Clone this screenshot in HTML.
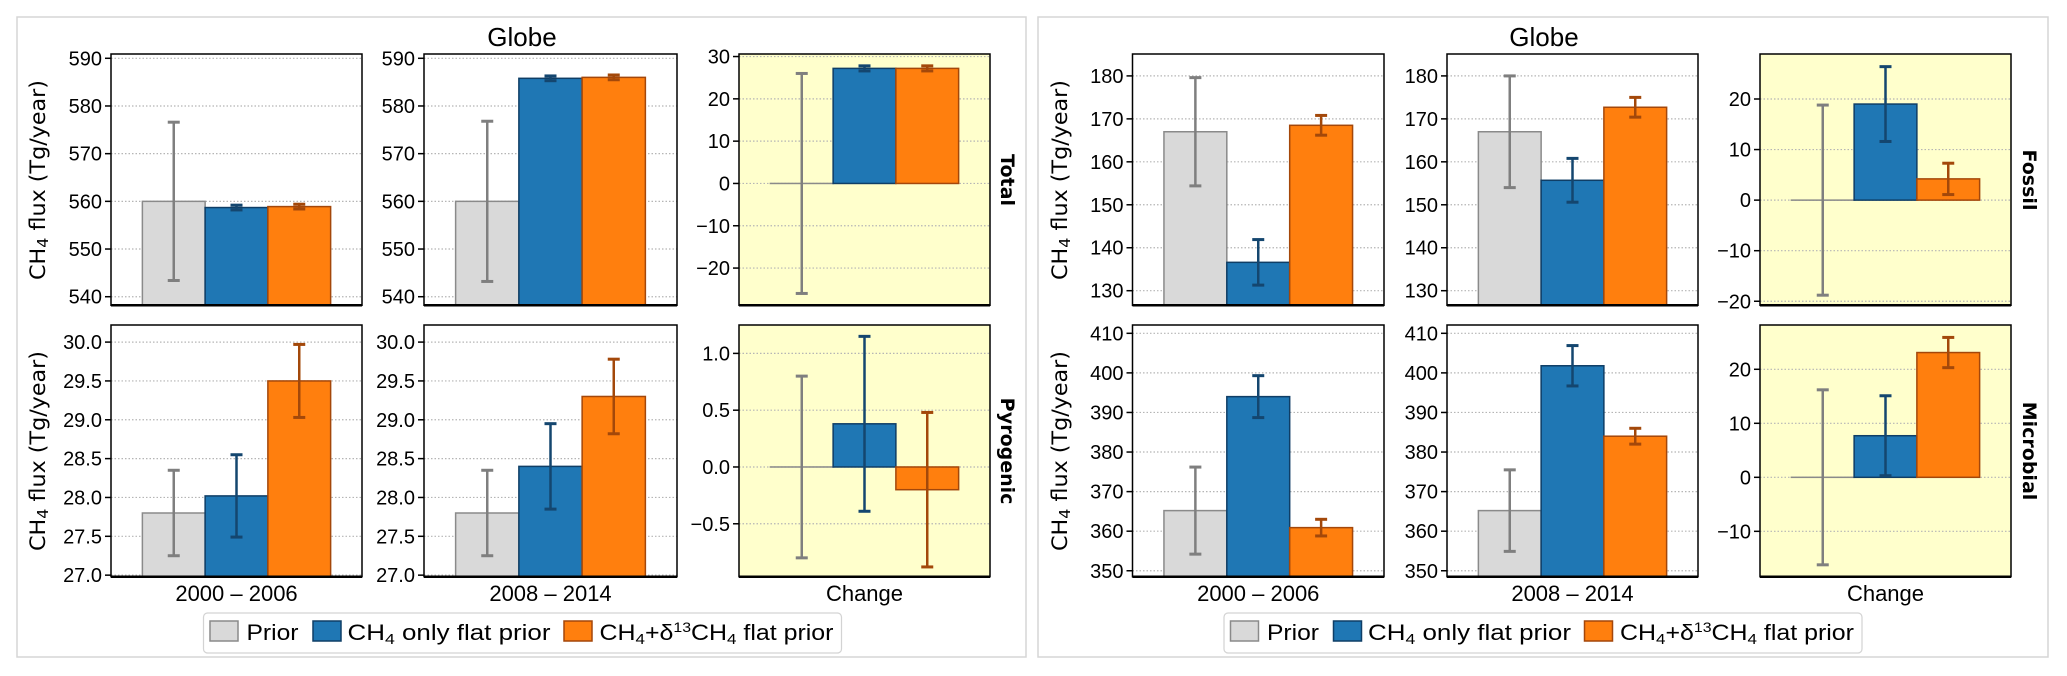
<!DOCTYPE html>
<html><head><meta charset="utf-8"><style>
html,body{margin:0;padding:0;background:#fff;width:2067px;height:676px;overflow:hidden}
svg{display:block}
.tick{font-family:"Liberation Sans Narrow","Liberation Sans",sans-serif;font-size:20px;fill:#000}
.ylab{font-family:"DejaVu Sans","Liberation Sans",sans-serif;font-size:21px;fill:#000}
.rlab{font-family:"DejaVu Sans","Liberation Sans",sans-serif;font-size:19px;font-weight:bold;fill:#000}
.title{font-family:"Liberation Sans Narrow","Liberation Sans",sans-serif;font-size:26px;fill:#000}
.leg{font-family:"Liberation Sans Narrow","Liberation Sans",sans-serif;font-size:22px;fill:#000}
</style></head><body>
<svg id="fig" width="2067" height="676" viewBox="0 0 2067 676" xmlns="http://www.w3.org/2000/svg">
<rect x="17" y="17" width="1009" height="640" fill="#fff" stroke="#d6d6d6" stroke-width="1.5"/>
<rect x="1038" y="17" width="1010" height="640" fill="#fff" stroke="#d6d6d6" stroke-width="1.5"/>
<text class="title" x="522" y="46" text-anchor="middle">Globe</text>
<text class="title" x="1544" y="46" text-anchor="middle">Globe</text>
</svg>
<script>
// ---- data ----
const categories = ["Prior", "CH4 only flat prior", "CH4+δ13CH4 flat prior"];
const periodLabels = ["2000 – 2006", "2008 – 2014", "Change"];

const totalEarlyValues = [560, 558.7, 558.9];
const totalEarlyErrors = [16.6, 0.5, 0.5];
const totalLateValues = [560, 585.8, 586];
const totalLateErrors = [16.8, 0.5, 0.5];
const totalChangeValues = [0, 27.2, 27.2];
const totalChangeErrors = [26, 0.6, 0.6];

const pyroEarlyValues = [27.8, 28.02, 29.5];
const pyroEarlyErrors = [0.55, 0.53, 0.47];
const pyroLateValues = [27.8, 28.4, 29.3];
const pyroLateErrors = [0.55, 0.55, 0.48];
const pyroChangeValues = [0, 0.38, -0.2];
const pyroChangeErrors = [0.8, 0.77, 0.68];

const fossilEarlyValues = [167, 136.6, 168.5];
const fossilEarlyErrors = [12.6, 5.3, 2.3];
const fossilLateValues = [167, 155.7, 172.7];
const fossilLateErrors = [13, 5.1, 2.3];
const fossilChangeValues = [0, 19, 4.2];
const fossilChangeErrors = [18.8, 7.4, 3.1];

const microEarlyValues = [365.2, 394, 360.9];
const microEarlyErrors = [11, 5.3, 2.1];
const microLateValues = [365.2, 401.8, 384];
const microLateErrors = [10.3, 5.1, 2];
const microChangeValues = [0, 7.7, 23.1];
const microChangeErrors = [16.2, 7.4, 2.8];

const totalAbsTicks = [540, 550, 560, 570, 580, 590];
const totalChangeTicks = [-20, -10, 0, 10, 20, 30];
const pyroAbsTicks = [27.0, 27.5, 28.0, 28.5, 29.0, 29.5, 30.0];
const pyroChangeTicks = [-0.5, 0.0, 0.5, 1.0];
const fossilAbsTicks = [130, 140, 150, 160, 170, 180];
const fossilChangeTicks = [-20, -10, 0, 10, 20];
const microAbsTicks = [350, 360, 370, 380, 390, 400, 410];
const microChangeTicks = [-10, 0, 10, 20];

// ---- layout ----
const NS = "http://www.w3.org/2000/svg";
const svg = document.getElementById("fig");
const fills = ["#d9d9d9", "#1f77b4", "#ff7f0e"];
const edges = ["#8a8a8a", "#0f3e66", "#a4470a"];
const errCols = ["#7f7f7f", "#14466f", "#a3480a"];
const rows = [{top:54, bottom:305.3}, {top:325, bottom:576.7}];
const colsLeft = [[111, 362], [424, 677], [739, 990]];
const colsRight = [[1132.5, 1384], [1447, 1698], [1760, 2011]];

function mk(tag, attrs, parent) {
  const e = document.createElementNS(NS, tag);
  for (const k in attrs) e.setAttribute(k, attrs[k]);
  (parent || svg).appendChild(e);
  return e;
}

function fmt(v, dec) {
  const s = Math.abs(v).toFixed(dec);
  return (v < -1e-9 ? "\u2212" : "") + s;
}

function panel(x0, x1, row, domain, ticks, dec, values, errors, isChange, name) {
  const y0 = row.top, y1 = row.bottom;
  const ys = v => y1 - (v - domain[0]) / (domain[1] - domain[0]) * (y1 - y0);
  const g = mk("g", {});
  
  
  const bg = mk("rect", {x:x0, y:y0, width:x1-x0, height:y1-y0, fill:isChange ? "#ffffcc" : "#fff"}, g);
  
  
  ticks.forEach(t => {
    const y = ys(t);
    const gl = mk("line", {x1:x0, x2:x1, y1:y, y2:y, stroke:"#b5b5b5", "stroke-width":1.2, "stroke-dasharray":"1.5 2"}, g);
    
    
    const tk = mk("line", {x1:x0-6, x2:x0, y1:y, y2:y, stroke:"#000", "stroke-width":1.5}, g);
    
    
    const tl = mk("text", {x:x0-9, y:y+7, "text-anchor":"end", class:"tick"}, g);
    tl.textContent = fmt(t, dec);
    
    
  });
  const w = (x1 - x0) * 0.25;
  const cx = (x0 + x1) / 2;
  values.forEach((v, i) => {
    const bx = cx + (i - 1.5) * w;
    const base = isChange ? 0 : domain[0];
    const ya = ys(Math.max(Math.min(base, v), domain[0]));
    const yb = ys(Math.min(Math.max(base, v), domain[1]));
    const r = mk("rect", {x:bx, y:yb, width:w, height:Math.max(ya-yb, 0.01), fill:(isChange && i===0) ? "none" : fills[i], stroke:edges[i], "stroke-width":1.5}, g);
    
    
  });
  values.forEach((v, i) => {
    const bx = cx + (i - 1) * w;
    const lo = ys(v - errors[i]), hi = ys(v + errors[i]);
    const el = mk("line", {x1:bx, x2:bx, y1:lo, y2:hi, stroke:errCols[i], "stroke-width":2.5}, g);
    
    
    [lo, hi].forEach(yy => {
      const c = mk("line", {x1:bx-6, x2:bx+6, y1:yy, y2:yy, stroke:errCols[i], "stroke-width":3}, g);
      
      
    });
  });
  const fr = mk("rect", {x:x0, y:y0, width:x1-x0, height:y1-y0, fill:"none", stroke:"#000", "stroke-width":1.5}, g);
  
  
  const bl = mk("line", {x1:x0, x2:x1, y1:y1, y2:y1, stroke:"#000", "stroke-width":2.5}, g);
  
  
}

panel(111, 362, rows[0], [538.2, 590.9], totalAbsTicks, 0, totalEarlyValues, totalEarlyErrors, false, "total-early");
panel(424, 677, rows[0], [538.2, 590.9], totalAbsTicks, 0, totalLateValues, totalLateErrors, false, "total-late");
panel(739, 990, rows[0], [-28.8, 30.6], totalChangeTicks, 0, totalChangeValues, totalChangeErrors, true, "total-change");
panel(111, 362, rows[1], [26.98, 30.22], pyroAbsTicks, 1, pyroEarlyValues, pyroEarlyErrors, false, "pyro-early");
panel(424, 677, rows[1], [26.98, 30.22], pyroAbsTicks, 1, pyroLateValues, pyroLateErrors, false, "pyro-late");
panel(739, 990, rows[1], [-0.966, 1.25], pyroChangeTicks, 1, pyroChangeValues, pyroChangeErrors, true, "pyro-change");
panel(1132.5, 1384, rows[0], [126.6, 185.1], fossilAbsTicks, 0, fossilEarlyValues, fossilEarlyErrors, false, "fossil-early");
panel(1447, 1698, rows[0], [126.6, 185.1], fossilAbsTicks, 0, fossilLateValues, fossilLateErrors, false, "fossil-late");
panel(1760, 2011, rows[0], [-20.8, 28.9], fossilChangeTicks, 0, fossilChangeValues, fossilChangeErrors, true, "fossil-change");
panel(1132.5, 1384, rows[1], [348.5, 412.1], microAbsTicks, 0, microEarlyValues, microEarlyErrors, false, "micro-early");
panel(1447, 1698, rows[1], [348.5, 412.1], microAbsTicks, 0, microLateValues, microLateErrors, false, "micro-late");
panel(1760, 2011, rows[1], [-18.4, 28.2], microChangeTicks, 0, microChangeValues, microChangeErrors, true, "micro-change");

[colsLeft, colsRight].forEach((cols, h) => {
  cols.forEach((c, i) => {
    const t = mk("text", {x:(c[0]+c[1])/2, y:601, "text-anchor":"middle", class:"leg"});
    t.textContent = periodLabels[i];
    
    
  });
});

function rotText(x, y, ang, cls, html, nm, len) {
  const attrs = {x:0, y:0, transform:`translate(${x},${y}) rotate(${ang})`, "text-anchor":"middle", class:cls};
  if (len) { attrs.textLength = len; attrs.lengthAdjust = "spacingAndGlyphs"; }
  const t = mk("text", attrs);
  t.innerHTML = html;
  
  
}
const ylabHtml = 'CH<tspan font-size="15" dy="3">4</tspan><tspan dy="-3"> flux (Tg/year)</tspan>';
[[45, "left"], [1067, "right"]].forEach(([x, s]) => {
  rotText(x, 180, -90, "ylab", ylabHtml, s + '-top-y-axis-title', 200);
  rotText(x, 451, -90, "ylab", ylabHtml, s + '-bottom-y-axis-title', 200);
});
rotText(1001, 180, 90, "rlab", "Total", "row-label-total");
rotText(1001, 451, 90, "rlab", "Pyrogenic", "row-label-pyrogenic");
rotText(2023, 180, 90, "rlab", "Fossil", "row-label-fossil");
rotText(2023, 451, 90, "rlab", "Microbial", "row-label-microbial");

function legend(x0, nm) {
  const g = mk("g", {});
  
  
  const b = mk("rect", {x:x0, y:613, width:638, height:40, rx:4, fill:"#fff", stroke:"#d3d3d3", "stroke-width":1.2}, g);
  
  
  const items = [
    {px:6.5, tx:43, tw:52, html:"Prior"},
    {px:109.5, tx:144, tw:203, html:'CH<tspan font-size="15" dy="4">4</tspan><tspan dy="-4"> only flat prior</tspan>'},
    {px:360.5, tx:396, tw:234, html:'CH<tspan font-size="15" dy="4">4</tspan><tspan dy="-4">+δ</tspan><tspan font-size="14" dy="-8">13</tspan><tspan dy="8">CH</tspan><tspan font-size="15" dy="4">4</tspan><tspan dy="-4"> flat prior</tspan>'}
  ];
  items.forEach((it, i) => {
    const p = mk("rect", {x:x0+it.px, y:621, width:28, height:20, fill:fills[i], stroke:edges[i], "stroke-width":1.5}, g);
    
    
    const t = mk("text", {x:x0+it.tx, y:640, class:"leg", textLength:it.tw, lengthAdjust:"spacingAndGlyphs"}, g);
    t.innerHTML = it.html;
    
    
  });
}
legend(203.5, "left-legend");
legend(1224, "right-legend");
</script>
</body></html>
